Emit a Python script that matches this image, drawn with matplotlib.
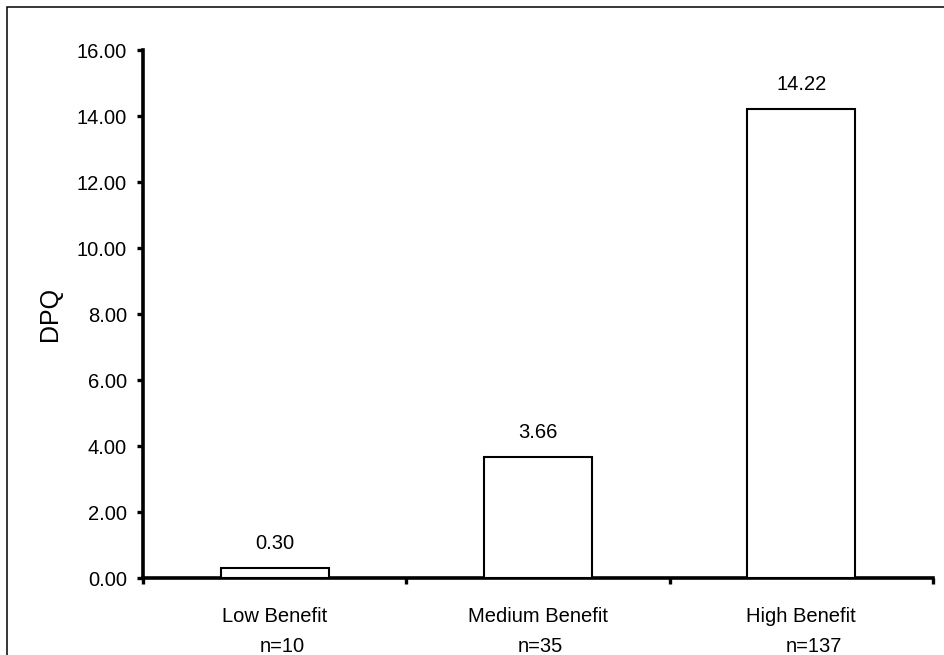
import matplotlib
matplotlib.use("Agg")
import matplotlib.pyplot as plt
from matplotlib.patches import Rectangle

plt.rcParams['font.family'] = ['Liberation Sans', 'DejaVu Sans']

categories = ["Low Benefit", "Medium Benefit", "High Benefit"]
n_labels = ["n=10", "n=35", "n=137"]
values = [0.30, 3.66, 14.22]
value_labels = ["0.30", "3.66", "14.22"]
yticks = [0, 2, 4, 6, 8, 10, 12, 14, 16]

FS = 14.5
PX = 0.72  # points per pixel at 100 dpi
n_shift_px = [7.5, 2, 13]

fig = plt.figure(figsize=(9.44, 6.55), dpi=100)
ax = fig.add_axes([143/944, 1-578/655, (933-143)/944, (578-50)/655])

x = list(range(len(categories)))
ax.bar(x, values, width=0.41, color='white', edgecolor='black', linewidth=1.5, zorder=3)

for xi, v, lab in zip(x, values, value_labels):
    ax.annotate(lab, (xi, v), xytext=(0, 13.5), textcoords='offset points',
                ha='center', va='baseline', fontsize=FS)

ax.set_xlim(-0.5, len(categories) - 0.5)
ax.set_ylim(0, 16)
ax.set_yticks(yticks)
ax.set_yticklabels([f"{t:.2f}" for t in yticks], fontsize=FS)
ax.set_xticks([i - 0.5 for i in range(len(categories) + 1)])
ax.set_xticklabels([])
ax.tick_params(axis='y', direction='out', length=4, width=2.4, pad=7.5)
ax.tick_params(axis='x', direction='out', length=4, width=2.4)

for i, (c, n) in enumerate(zip(categories, n_labels)):
    ax.annotate(c, xy=(i, 0), xycoords=('data', 'axes fraction'),
                xytext=(0, -44 * PX), textcoords='offset points',
                ha='center', va='baseline', fontsize=FS, annotation_clip=False)
    ax.annotate(n, xy=(i, 0), xycoords=('data', 'axes fraction'),
                xytext=(n_shift_px[i] * PX, -74 * PX), textcoords='offset points',
                ha='center', va='baseline', fontsize=FS, annotation_clip=False)

ax.set_ylabel("DPQ", fontsize=18)
ax.yaxis.set_label_coords(-0.1025, 0.5)

for s in ['top', 'right']:
    ax.spines[s].set_visible(False)
for s in ['left', 'bottom']:
    ax.spines[s].set_linewidth(2.6)

fig.patches.append(Rectangle((7/944, -0.1), 1.2, 1 - 7/655 + 0.1, transform=fig.transFigure,
                             fill=False, edgecolor='black', linewidth=1.1))

fig.savefig("out.png", dpi=100)
